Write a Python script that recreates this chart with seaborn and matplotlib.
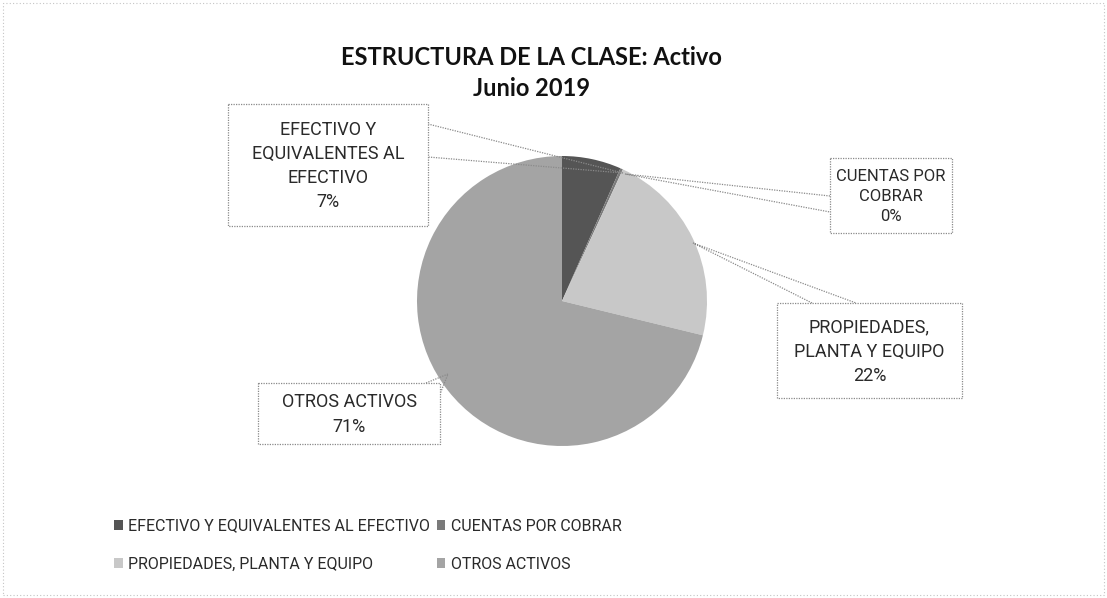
import matplotlib
matplotlib.use("Agg")
import matplotlib.pyplot as plt
import seaborn as sns
from matplotlib.patches import Rectangle, Polygon

# data
categorias = ["EFECTIVO Y EQUIVALENTES AL EFECTIVO", "CUENTAS POR COBRAR",
              "PROPIEDADES, PLANTA Y EQUIPO", "OTROS ACTIVOS"]
etiquetas = ["EFECTIVO Y\nEQUIVALENTES AL\nEFECTIVO\n7%", "CUENTAS POR\nCOBRAR\n0%",
             "PROPIEDADES,\nPLANTA Y EQUIPO\n22%", "OTROS ACTIVOS\n71%"]
porcentajes = [6.6, 0.3, 21.9, 71.2]
colores = ["#555555", "#7a7a7a", "#c8c8c8", "#a4a4a4"]

sns.set_theme(style="white")
plt.rcParams['font.family'] = ['Roboto', 'DejaVu Sans']

fig = plt.figure(figsize=(11.07, 5.98), dpi=100)
ax = fig.add_axes([0, 0, 1, 1])

# pie in pixel coords (y axis inverted -> clockwise visually)
wedges, _ = ax.pie(porcentajes, colors=colores, center=(562, 301), radius=145,
                   startangle=-90, counterclock=True, frame=True,
                   wedgeprops=dict(linewidth=0))
ax.set_xlim(0, 1107)
ax.set_ylim(598, 0)
ax.set_aspect('equal')
ax.axis('off')

# label boxes: (x0, y0, x1, y1), callout wedge base points, tip, font size
cajas = [
    ((228, 104, 428, 226), [(428, 124), (428, 157)], (623, 173), 13),
    ((830, 158, 952, 233), [(830, 196), (830, 212)], (625, 174), 12),
    ((777, 303, 962, 398), [(812, 303), (856, 303)], (693, 243), 13),
    ((258, 383, 440, 444), [(426, 383), (440, 394)], (448, 374), 13),
]
linea = "#8a8a8a"
for ((x0, y0, x1, y1), base, tip, fs), txt in zip(cajas, etiquetas):
    ax.add_patch(Polygon([base[0], tip, base[1]], closed=False, fill=False,
                         edgecolor=linea, linewidth=0.9, linestyle=(0, (1, 1))))
    ax.add_patch(Rectangle((x0, y0), x1 - x0, y1 - y0, facecolor="white",
                           edgecolor=linea, linewidth=0.9, linestyle=(0, (1, 1))))
    ax.text((x0 + x1) / 2, (y0 + y1) / 2 + 1, txt, ha='center', va='center',
            fontsize=fs, color="#2a2a2a", linespacing=1.45)

# title
fig.text(0.48, 0.878, "ESTRUCTURA DE LA CLASE: Activo\nJunio 2019", ha='center',
         va='center', fontsize=17, fontweight='bold', family=['Lato', 'DejaVu Sans'],
         color="#111111", linespacing=1.45)

# legend, row-wise order
orden = [0, 2, 1, 3]
fig.legend([wedges[i] for i in orden], [categorias[i] for i in orden], ncol=2,
           loc='lower left', bbox_to_anchor=(0.09, 0.02), frameon=False,
           fontsize=11.5, handlelength=0.55, handleheight=0.55, handletextpad=0.35,
           columnspacing=0.4, labelspacing=1.45, labelcolor="#2a2a2a")

# faint outer frame
fig.patches.append(Rectangle((0.003, 0.005), 0.994, 0.99, transform=fig.transFigure,
                             fill=False, edgecolor="#c4c4c4", linewidth=0.8,
                             linestyle=(0, (1, 2))))

fig.savefig("out.png", dpi=100)
